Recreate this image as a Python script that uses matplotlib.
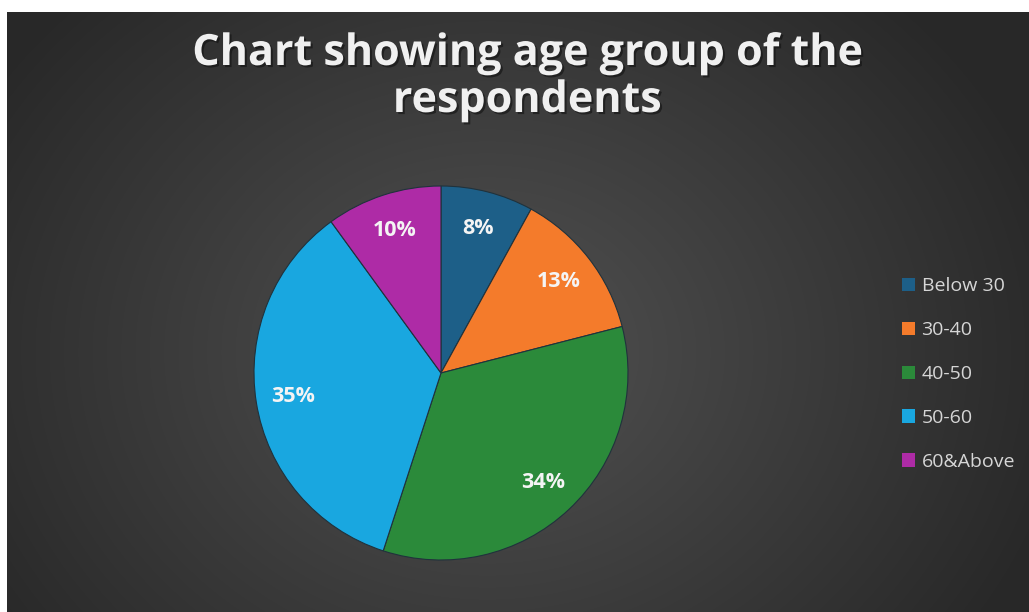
import numpy as np
import matplotlib
matplotlib.use("Agg")
import matplotlib.pyplot as plt
import matplotlib.patheffects as pe

categories = ["Below 30", "30-40", "40-50", "50-60", "60&Above"]
shares = [8, 13, 34, 35, 10]
colors = ["#1d5f88", "#f47b2b", "#2b8a3a", "#19a7e0", "#ae2ba6"]
title_lines = ["Chart showing age group of the", "respondents"]

W, H = 1029, 612
fig = plt.figure(figsize=(W / 100, H / 100), dpi=100)
fig.patch.set_facecolor("white")

# dark radial backdrop
bg = fig.add_axes([7 / W, 0, 1 - 7 / W, 1 - 12 / H])
bg.set_axis_off()
yy, xx = np.mgrid[0:600, 0:1022]
cx, cy = 480, 340
d = np.sqrt(((xx - cx) / 620) ** 2 + ((yy - cy) / 520) ** 2)
shade = np.clip(0.32 - 0.17 * d, 0.16, 0.34)
img = np.dstack([shade, shade, shade])
bg.imshow(img, aspect="auto", extent=[0, 1, 0, 1], origin="upper")
bg.set_xlim(0, 1)
bg.set_ylim(0, 1)

# two-line title, each line on its own baseline
shadow = [pe.withSimplePatchShadow(offset=(1.5, -1.5),
                                   shadow_rgbFace="#111111", alpha=0.6)]
for line, base in zip(title_lines, [65, 112]):
    fig.text(527 / W, 1 - base / H, line, ha="center", va="baseline",
             fontsize=31, fontweight="bold", family="Open Sans",
             color="#f0f0f0", path_effects=shadow)

# pie
cxp, cyp, r = 441, 373, 187
ax = fig.add_axes([(cxp - r) / W, (H - cyp - r) / H, 2 * r / W, 2 * r / H])
ax.set_axis_off()
wedges, texts, autotexts = ax.pie(
    shares, colors=colors, startangle=90, counterclock=False,
    autopct=lambda p: f"{p:.0f}%", pctdistance=0.8, radius=1,
    wedgeprops=dict(edgecolor="#20323c", linewidth=0.8),
    textprops=dict(color="#f4f4f4", fontsize=15.5, fontweight="bold",
                   family="Open Sans"))
ax.set_xlim(-1.0, 1.0)
ax.set_ylim(-1.0, 1.0)
ax.set_aspect("auto")

leg = fig.legend(wedges, categories, loc="center left",
                 bbox_to_anchor=(884 / W, 1 - 374 / H),
                 frameon=False, handlelength=0.67, handleheight=0.67,
                 handletextpad=0.36, labelspacing=1.33,
                 prop=dict(family="Open Sans", size=14))
for t in leg.get_texts():
    t.set_color("#d6d6d6")
for h in leg.legend_handles:
    h.set_edgecolor("none")

fig.savefig("out.png", dpi=100, facecolor=fig.get_facecolor())
